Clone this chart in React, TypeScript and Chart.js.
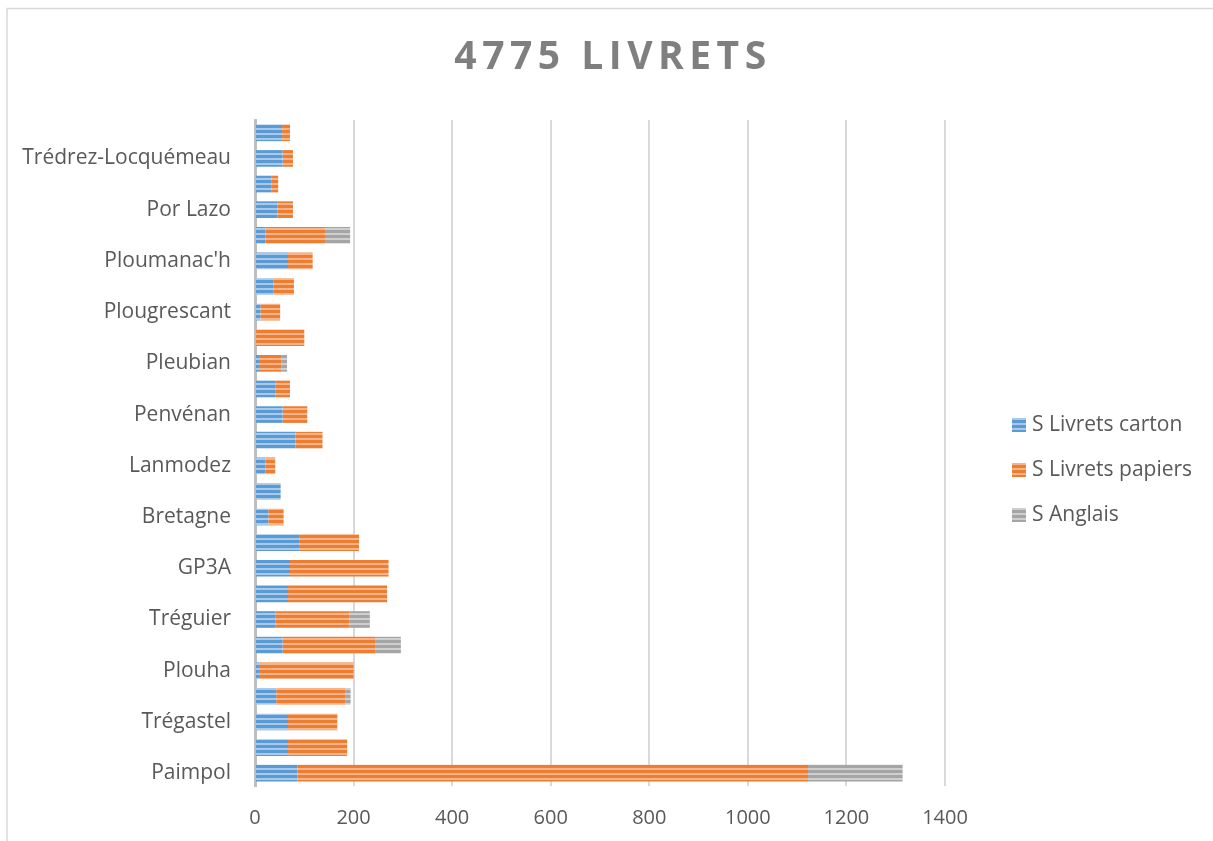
import React, { useEffect, useRef } from 'react';
import { Chart, registerables } from 'chart.js';

Chart.register(...registerables);

// Categories from bottom (first) to top (last); every other label is hidden in the source chart
const categories = [
  'Paimpol', '', 'Trégastel', '', 'Plouha', '', 'Tréguier', '', 'GP3A', '',
  'Bretagne', '', 'Lanmodez', '', 'Penvénan', '', 'Pleubian', '', 'Plougrescant', '',
  "Ploumanac'h", '', 'Por Lazo', '', 'Trédrez-Locquémeau', '',
];
const livretsCarton = [86, 67, 67, 43, 8, 56, 41, 67, 71, 91, 27, 52, 21, 82, 56, 41, 8, 0, 11, 38, 67, 21, 46, 34, 56, 55];
const livretsPapiers = [1036, 120, 100, 141, 192, 189, 151, 201, 200, 120, 31, 0, 20, 55, 50, 30, 46, 100, 40, 41, 50, 121, 31, 13, 21, 16];
const anglais = [192, 0, 0, 10, 0, 51, 41, 0, 0, 0, 0, 0, 0, 0, 0, 0, 11, 0, 0, 0, 0, 51, 0, 0, 0, 0];
const seriesNames = ['S Livrets carton', 'S Livrets papiers', 'S Anglais'];
const titleText = '4775 LIVRETS';
const xMax = 1400;
const xStep = 200;

const FONT = '"Open Sans", "DejaVu Sans", sans-serif';
const TEXT = '#595959';

export default function App() {
  const ref = useRef<HTMLCanvasElement | null>(null);

  useEffect(() => {
    const canvas = ref.current;
    if (!canvas) return;
    const ctx0 = canvas.getContext('2d')!;

    const stripe = (base: string, light: string) => {
      const c = document.createElement('canvas');
      c.width = 4;
      c.height = 5;
      const g = c.getContext('2d')!;
      g.fillStyle = light;
      g.fillRect(0, 0, 4, 5);
      g.fillStyle = base;
      g.fillRect(0, 0, 4, 3);
      return ctx0.createPattern(c, 'repeat')!;
    };

    const fills = [
      stripe('#5b9bd5', '#a9c9ea'),
      stripe('#ed7d31', '#f5b48a'),
      stripe('#a5a5a5', '#cfcfcf'),
    ];

    const decor = {
      id: 'decor',
      beforeDraw(chart: any) {
        const { ctx, width, height } = chart;
        ctx.save();
        ctx.fillStyle = '#ffffff';
        ctx.fillRect(0, 0, width, height);
        ctx.strokeStyle = '#d9d9d9';
        ctx.lineWidth = 1.5;
        ctx.beginPath();
        ctx.moveTo(7, height);
        ctx.lineTo(7, 8.5);
        ctx.lineTo(width, 8.5);
        ctx.stroke();
        ctx.restore();
      },
      afterDraw(chart: any) {
        const { ctx } = chart;
        ctx.save();
        // title
        ctx.fillStyle = '#7f7f7f';
        ctx.font = `bold 39px ${FONT}`;
        (ctx as any).letterSpacing = '5.5px';
        ctx.textAlign = 'center';
        ctx.textBaseline = 'middle';
        ctx.fillText(titleText, 613, 58);
        (ctx as any).letterSpacing = '0px';
        // legend
        ctx.font = `21px ${FONT}`;
        ctx.textAlign = 'left';
        chart.data.datasets.forEach((ds: any, i: number) => {
          const cy = 425 + i * 45;
          ctx.fillStyle = ds.backgroundColor;
          ctx.fillRect(1012, cy - 7, 14, 14);
          ctx.fillStyle = TEXT;
          ctx.fillText(ds.label, 1032, cy);
        });
        ctx.restore();
      },
    };

    const chart = new Chart(canvas, {
      type: 'bar',
      data: {
        labels: categories,
        datasets: [
          { label: seriesNames[0], data: livretsCarton, backgroundColor: fills[0] as any },
          { label: seriesNames[1], data: livretsPapiers, backgroundColor: fills[1] as any },
          { label: seriesNames[2], data: anglais, backgroundColor: fills[2] as any },
        ],
      },
      options: {
        indexAxis: 'y',
        animation: false,
        responsive: false,
        maintainAspectRatio: false,
        layout: { padding: { left: 0, right: 268, top: 120, bottom: 0 } },
        datasets: { bar: { barPercentage: 0.65, categoryPercentage: 1.0 } },
        plugins: {
          legend: { display: false },
          title: { display: false },
          tooltip: { enabled: false },
        },
        scales: {
          x: {
            stacked: true,
            min: 0,
            max: xMax,
            ticks: {
              stepSize: xStep,
              color: TEXT,
              font: { family: FONT, size: 20 },
              padding: 20,
              callback: (v: any) => String(v),
            },
            grid: {
              drawTicks: false,
              color: (c: any) => (c.tick && c.tick.value === 0 ? 'rgba(0,0,0,0)' : '#d9d9d9'),
              lineWidth: 2,
            },
            border: { display: false },
            afterFit(scale: any) {
              scale.height = 55;
            },
          },
          y: {
            stacked: true,
            reverse: true,
            ticks: { autoSkip: false, color: TEXT, font: { family: FONT, size: 21 }, padding: 24 },
            grid: { display: false, drawTicks: false },
            border: { display: true, color: '#bfbfbf', width: 3 },
            afterFit(scale: any) {
              scale.width = 255;
            },
          },
        },
      },
      plugins: [decor],
    });

    return () => chart.destroy();
  }, []);

  return (
    <div style={{ position: 'fixed', left: 0, top: 0, width: 1213, height: 841 }}>
      <canvas ref={ref} width={1213} height={841} style={{ display: 'block', width: 1213, height: 841 }} />
    </div>
  );
}
